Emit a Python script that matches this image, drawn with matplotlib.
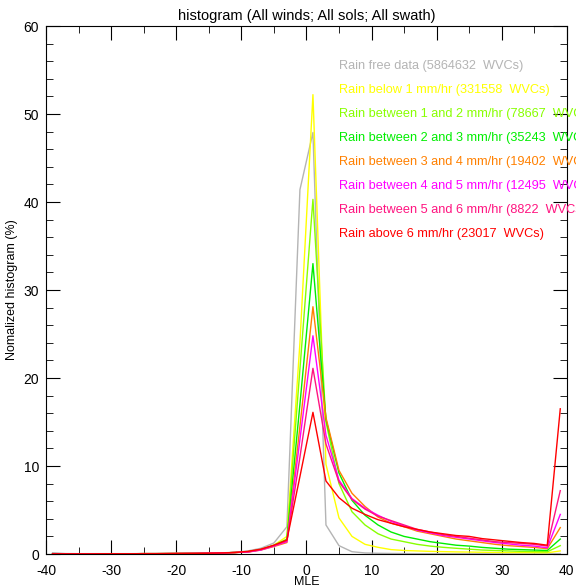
import numpy as np
import matplotlib
matplotlib.use("Agg")
import matplotlib.pyplot as plt
from matplotlib.ticker import MultipleLocator

plt.rcParams["font.family"] = ["Liberation Sans", "DejaVu Sans"]
plt.rcParams["axes.unicode_minus"] = False

# MLE bin centres
mle = list(range(-39, 40, 2))

left_tail = [0.02, 0.02, 0.02, 0.02, 0.03, 0.03, 0.03, 0.04, 0.04, 0.05, 0.06, 0.07, 0.09, 0.12, 0.17]

rain_free = [0.15, 0.05, 0.04, 0.04, 0.04, 0.04, 0.04, 0.05, 0.05, 0.06, 0.07, 0.08, 0.1, 0.13, 0.2,
             0.35, 0.65, 1.25, 3.1, 41.4, 47.9, 3.3, 0.95, 0.26, 0.12, 0.08, 0.06, 0.05, 0.04, 0.04,
             0.03, 0.03, 0.03, 0.03, 0.02, 0.02, 0.02, 0.02, 0.02, 0.05]
rain_lt1 = left_tail + [0.25, 0.5, 1.0, 2.0, 24.0, 52.2, 10.2, 4.1, 2.0, 1.1, 0.76, 0.5, 0.4, 0.35, 0.3,
                        0.27, 0.24, 0.22, 0.2, 0.18, 0.17, 0.16, 0.15, 0.14, 0.35]
rain_1_2 = left_tail + [0.25, 0.5, 1.0, 1.7, 21.0, 40.3, 15.0, 8.0, 4.8, 3.3, 2.3, 1.7, 1.4, 1.1, 0.9,
                        0.76, 0.65, 0.55, 0.45, 0.4, 0.35, 0.3, 0.28, 0.25, 0.95]
rain_2_3 = left_tail + [0.25, 0.5, 0.95, 1.6, 17.0, 33.0, 15.3, 9.2, 6.1, 4.4, 3.3, 2.5, 2.0, 1.7, 1.4,
                        1.2, 1.0, 0.9, 0.75, 0.65, 0.55, 0.5, 0.45, 0.4, 1.7]
rain_3_4 = left_tail + [0.22, 0.45, 0.85, 1.3, 14.5, 28.1, 15.5, 9.5, 6.9, 5.4, 4.2, 3.5, 3.1, 2.6, 2.3,
                        2.0, 1.7, 1.5, 1.3, 1.1, 0.95, 0.85, 0.75, 0.6, 3.0]
rain_4_5 = left_tail + [0.22, 0.45, 0.9, 1.4, 13.0, 24.8, 13.5, 8.4, 6.3, 5.2, 4.4, 3.7, 3.2, 2.7, 2.4,
                        2.1, 1.9, 1.7, 1.5, 1.3, 1.15, 1.0, 0.9, 0.7, 4.5]
rain_5_6 = left_tail + [0.25, 0.5, 0.95, 1.5, 11.0, 21.1, 12.5, 8.2, 6.2, 5.1, 4.3, 3.8, 3.3, 2.8, 2.5,
                        2.2, 2.0, 1.8, 1.6, 1.4, 1.3, 1.2, 1.1, 0.9, 7.2]
rain_gt6 = left_tail + [0.3, 0.55, 1.0, 1.6, 8.8, 16.1, 8.3, 6.4, 5.2, 4.5, 3.9, 3.5, 3.1, 2.8, 2.5,
                        2.3, 2.1, 2.0, 1.75, 1.6, 1.45, 1.3, 1.2, 1.0, 16.5]

labels = [
    "Rain free data (5864632  WVCs)",
    "Rain below 1 mm/hr (331558  WVCs)",
    "Rain between 1 and 2 mm/hr (78667  WVCs)",
    "Rain between 2 and 3 mm/hr (35243  WVCs)",
    "Rain between 3 and 4 mm/hr (19402  WVCs)",
    "Rain between 4 and 5 mm/hr (12495  WVCs)",
    "Rain between 5 and 6 mm/hr (8822  WVCs)",
    "Rain above 6 mm/hr (23017  WVCs)",
]
colors = ["#b4b4b4", "#ffff00", "#88ff00", "#00ee00", "#ff8000", "#ff00ff", "#ff1480", "#ff0000"]
series = [rain_free, rain_lt1, rain_1_2, rain_2_3, rain_3_4, rain_4_5, rain_5_6, rain_gt6]

fig = plt.figure(figsize=(5.76, 5.86), dpi=100)
ax = fig.add_axes([0.08, 0.0546, 0.904, 0.901])

for vals, c in zip(series, colors):
    ax.plot(mle, vals, color=c, lw=1.0)

for i, (lab, c) in enumerate(zip(labels, colors)):
    ax.text(5.0, 55.5 - i * 2.73, lab, color=c, fontsize=9.2, va="center", ha="left", clip_on=False)

ax.set_xlim(-40, 40)
ax.set_ylim(0, 60)
ax.xaxis.set_major_locator(MultipleLocator(10))
ax.xaxis.set_minor_locator(MultipleLocator(5))
ax.yaxis.set_major_locator(MultipleLocator(10))
ax.yaxis.set_minor_locator(MultipleLocator(2))
ax.tick_params(which="both", direction="in", top=True, right=True, labelsize=10)
ax.tick_params(axis="x", which="major", pad=7)
ax.tick_params(axis="y", which="major", pad=5)
ax.tick_params(which="major", length=10)
ax.tick_params(which="minor", length=5)

ax.set_title("histogram (All winds; All sols; All swath)", fontsize=10.5, pad=4)
ax.set_xlabel("MLE", fontsize=9, labelpad=-1)
ax.set_ylabel("Nomalized histogram (%)", fontsize=9, labelpad=4)

fig.savefig("out.png", dpi=100)
